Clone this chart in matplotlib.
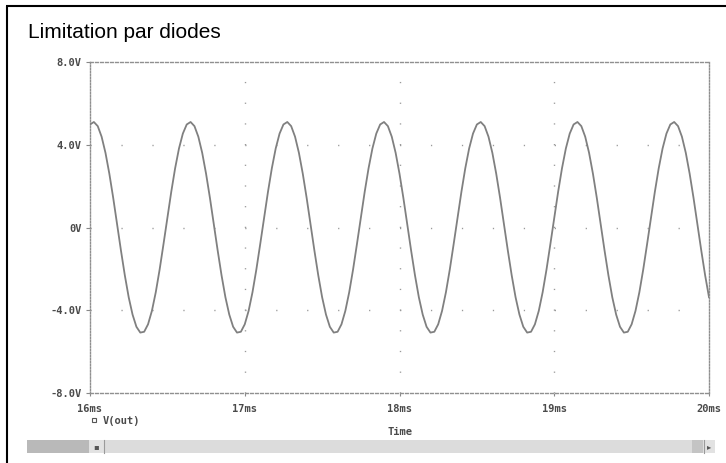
import numpy as np
import matplotlib
matplotlib.use("Agg")
import matplotlib.pyplot as plt
from matplotlib.lines import Line2D
from matplotlib.patches import Rectangle

# V(out) transient trace, 16 ms .. 20 ms, one sample every 25 us
t_ms = np.linspace(16.0, 20.0, 161)
v_out = [
    4.98, 5.10, 4.90, 4.39, 3.61, 2.60, 1.43, 0.17, -1.11, -2.31, -3.37, -4.21, -4.80,
    -5.08, -5.04, -4.68, -4.03, -3.13, -2.03, -0.80, 0.47, 1.72, 2.86, 3.82, 4.54,
    4.98, 5.10, 4.90, 4.39, 3.61, 2.60, 1.43, 0.17, -1.11, -2.31, -3.37, -4.21, -4.80,
    -5.08, -5.04, -4.68, -4.03, -3.13, -2.03, -0.80, 0.47, 1.72, 2.86, 3.82, 4.54,
    4.98, 5.10, 4.90, 4.39, 3.61, 2.60, 1.43, 0.17, -1.11, -2.31, -3.37, -4.21, -4.80,
    -5.08, -5.04, -4.68, -4.03, -3.13, -2.03, -0.80, 0.47, 1.72, 2.86, 3.82, 4.54,
    4.98, 5.10, 4.90, 4.39, 3.61, 2.60, 1.43, 0.17, -1.11, -2.31, -3.37, -4.21, -4.80,
    -5.08, -5.04, -4.68, -4.03, -3.13, -2.03, -0.80, 0.47, 1.72, 2.86, 3.82, 4.54,
    4.98, 5.10, 4.90, 4.39, 3.61, 2.60, 1.43, 0.17, -1.11, -2.31, -3.37, -4.21, -4.80,
    -5.08, -5.04, -4.68, -4.03, -3.13, -2.03, -0.80, 0.47, 1.72, 2.86, 3.82, 4.54,
    4.98, 5.10, 4.90, 4.39, 3.61, 2.60, 1.43, 0.17, -1.11, -2.31, -3.37, -4.21, -4.80,
    -5.08, -5.04, -4.68, -4.03, -3.13, -2.03, -0.80, 0.47, 1.72, 2.86, 3.82, 4.54,
    4.98, 5.10, 4.90, 4.39, 3.61, 2.60, 1.43, 0.17, -1.11, -2.31, -3.37,
]

x_ticks = [16, 17, 18, 19, 20]
x_labels = ["16ms", "17ms", "18ms", "19ms", "20ms"]
y_ticks = [-8, -4, 0, 4, 8]
y_labels = ["-8.0V", "-4.0V", "0V", "4.0V", "8.0V"]

W, H, DPI = 726, 463, 100
fig = plt.figure(figsize=(W / DPI, H / DPI), dpi=DPI)
fig.patch.set_facecolor("white")

def fx(px):
    return px / W

def fy(py):
    return 1 - py / H

ax = fig.add_axes([fx(90), fy(393), fx(709) - fx(90), fy(62) - fy(393)])
ax.set_xlim(16, 20)
ax.set_ylim(-8, 8)

tick_col = "#4a4a4a"
mono = {"family": "DejaVu Sans Mono", "weight": "bold", "size": 7.5}

# dotted grid: dots every 0.2 ms on horizontal lines, every 1 V on vertical lines
px_per_pt = DPI / 72
ax_w = (709 - 90)
ax_h = (393 - 62)
hgap = 0.2 / 4 * ax_w / px_per_pt
vgap = 1 / 16 * ax_h / px_per_pt
for y in [-4, 0, 4]:
    ax.axhline(y, color="#9a9a9a", lw=1, ls=(0, (0.9, hgap - 0.9)), zorder=1)
for x in [17, 18, 19]:
    ax.axvline(x, color="#9a9a9a", lw=1, ls=(0, (0.9, vgap - 0.9)), zorder=1)

ax.plot(t_ms, v_out, color="#808080", lw=1.3, zorder=3, label="V(out)")

ax.set_xticks(x_ticks)
ax.set_xticklabels(x_labels, fontdict=mono, color=tick_col)
ax.set_yticks(y_ticks)
ax.set_yticklabels(y_labels, fontdict=mono, color=tick_col)
ax.tick_params(axis="y", direction="out", length=3, width=0.8, color="#888888", pad=3)
ax.tick_params(axis="x", direction="out", length=2, width=0.8, color="#888888", pad=6)

for side in ["top", "bottom"]:
    ax.spines[side].set_linestyle((0, (2.0, 1.6)))
for side in ["left", "right"]:
    ax.spines[side].set_linestyle((0, (1.0, 1.2)))
for s in ax.spines.values():
    s.set_color("#8f8f8f")
    s.set_linewidth(1.0)

ax.set_xlabel("Time", fontdict=mono, color=tick_col)
ax.xaxis.set_label_coords(0.5, -(432 - 393) / ax_h)
ax.xaxis.label.set_va("center")

leg = ax.legend(
    handles=[Line2D([], [], marker="s", ls="none", ms=3, mfc="white",
                    mec="#555555", mew=0.8)],
    labels=["V(out)"],
    loc="center left",
    bbox_to_anchor=(fx(90), fy(421)),
    bbox_transform=fig.transFigure,
    frameon=False,
    prop=mono,
    handlelength=0.8,
    handletextpad=0.4,
    borderpad=0,
    borderaxespad=0,
)
for txt in leg.get_texts():
    txt.set_color(tick_col)

fig.text(fx(28), fy(38), "Limitation par diodes", fontsize=15,
         family="Liberation Sans", va="baseline", ha="left", color="black")

# window frame (left and top edges)
fig.add_artist(Line2D([fx(7), fx(7)], [0, fy(5.5)], color="black", lw=1.5,
                      transform=fig.transFigure, solid_capstyle="butt"))
fig.add_artist(Line2D([fx(6), 1], [fy(5.5), fy(5.5)], color="black", lw=1.5,
                      transform=fig.transFigure, solid_capstyle="butt"))

# scroll bar along the bottom
def bar(x0, x1, col):
    fig.add_artist(Rectangle((fx(x0), fy(453)), fx(x1) - fx(x0), fy(440) - fy(453),
                             transform=fig.transFigure, facecolor=col,
                             edgecolor="none"))

bar(27, 89, "#b9b9b9")
bar(89, 104, "#e2e2e2")
bar(104, 692, "#dcdcdc")
bar(692, 703, "#c4c4c4")
bar(703, 715, "#e2e2e2")
for xs in [103.5, 703.5]:
    fig.add_artist(Line2D([fx(xs), fx(xs)], [fy(453), fy(440)], color="#9a9a9a",
                          lw=0.8, transform=fig.transFigure))
fig.text(fx(96), fy(446.5), "\u25aa", fontsize=6, color="#555555",
         ha="center", va="center", family="DejaVu Sans")
fig.text(fx(709), fy(446.5), "\u25b8", fontsize=6, color="#555555",
         ha="center", va="center", family="DejaVu Sans")

fig.savefig("out.png", dpi=DPI)
